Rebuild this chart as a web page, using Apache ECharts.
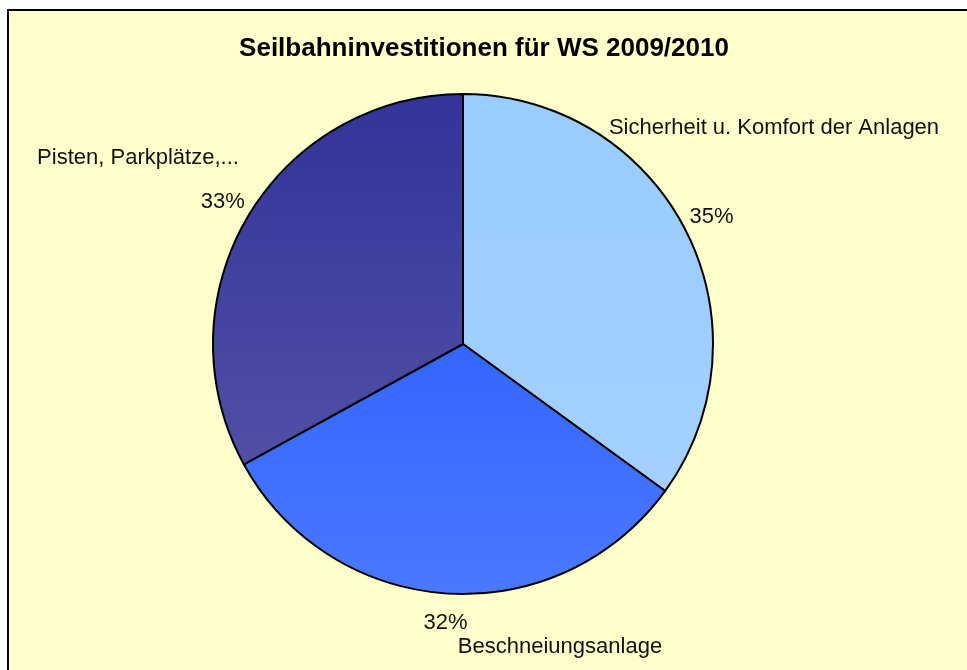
<!DOCTYPE html>
<html>
<head>
<meta charset="utf-8">
<script src="https://cdn.jsdelivr.net/npm/echarts@6/dist/echarts.min.js"></script>
<style>
  html, body { margin: 0; padding: 0; background: #fff; }
  #chart { width: 967px; height: 670px; }
</style>
</head>
<body>
<div id="chart"></div>
<script>
var chartTitle = 'Seilbahninvestitionen für WS 2009/2010';
var categories = ['Sicherheit u. Komfort der Anlagen', 'Beschneiungsanlage', 'Pisten, Parkplätze,...'];
var values = [35, 32, 33];

// colours per slice (top, bottom of vertical gradient)
var sliceColors = [
    ['#99CCFF', '#A3D0FF'],
    ['#3366FF', '#4A79FF'],
    ['#333399', '#5050A6']
];
// where the category names sit (centre of text)
var namePos = [[774, 128], [560, 647], [138, 158]];

var chart = echarts.init(document.getElementById('chart'));

var pieData = categories.map(function (name, i) {
    return {
        name: name,
        value: values[i],
        itemStyle: {
            color: new echarts.graphic.LinearGradient(0, 0, 0, 1, [
                {offset: 0, color: sliceColors[i][0]},
                {offset: 1, color: sliceColors[i][1]}
            ])
        }
    };
});

var labelFont = {
    color: '#111',
    fontFamily: 'Liberation Sans, Arial, sans-serif',
    fontSize: 22,
    overflow: 'none'
};

var option = {
    animation: false,
    graphic: [{
        type: 'rect',
        z: -10,
        shape: {x: 8, y: 10, width: 1000, height: 700},
        style: {fill: '#FFFFCC', stroke: '#000', lineWidth: 2}
    }],
    title: {
        text: chartTitle,
        left: 479,
        top: 31,
        textAlign: 'center',
        textStyle: {
            fontFamily: 'Liberation Sans, Arial, sans-serif',
            fontWeight: 'bold',
            fontSize: 26,
            color: '#000'
        }
    },
    series: [
        {
            type: 'pie',
            center: [463, 344],
            radius: [0, 250],
            startAngle: 90,
            clockwise: true,
            data: pieData,
            itemStyle: {borderColor: '#000', borderWidth: 2},
            label: Object.assign({
                show: true,
                position: 'outside',
                formatter: '{b}'
            }, labelFont),
            labelLine: {show: false},
            labelLayout: function (params) {
                var p = namePos[params.dataIndex];
                return {x: p[0], y: p[1], align: 'center', verticalAlign: 'middle'};
            },
            emphasis: {disabled: true}
        },
        {
            // transparent ring carrying the percent labels
            type: 'pie',
            center: [463, 344],
            radius: [254, 298],
            startAngle: 90,
            clockwise: true,
            silent: true,
            data: categories.map(function (name, i) {
                return {name: name, value: values[i]};
            }),
            itemStyle: {color: 'rgba(0,0,0,0)'},
            label: Object.assign({
                show: true,
                position: 'inside',
                formatter: '{d}%'
            }, labelFont),
            labelLine: {show: false},
            emphasis: {disabled: true}
        }
    ]
};

chart.setOption(option);
</script>
</body>
</html>
